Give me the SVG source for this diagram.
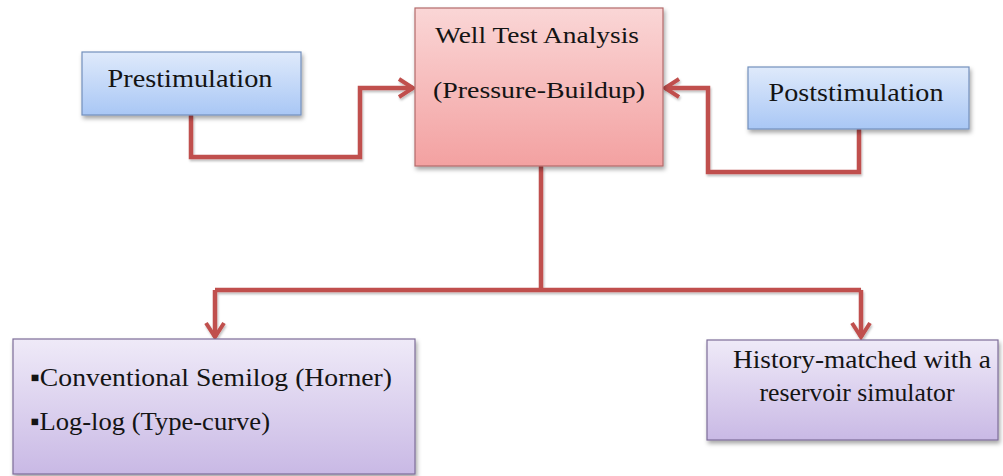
<svg xmlns="http://www.w3.org/2000/svg" width="1003" height="476" viewBox="0 0 1003 476">
<defs>
<style>
.txt{font-family:"Liberation Serif","Times New Roman",serif;fill:#141414;}
.blue{fill:url(#gBlue);stroke:#7390bd;stroke-width:1.2;}
.red{fill:url(#gRed);stroke:#b36b6b;stroke-width:1.2;}
.purple{fill:url(#gPurple);stroke:#7d6d98;stroke-width:1.2;}
.conn{fill:none;stroke:#c0504d;stroke-width:4.5;stroke-linejoin:miter;}
</style>
<linearGradient id="gBlue" x1="0" y1="0" x2="0" y2="1">
<stop offset="0" stop-color="#dfeafb"/>
<stop offset="1" stop-color="#a9c7f5"/>
</linearGradient>
<linearGradient id="gRed" x1="0" y1="0" x2="0" y2="1">
<stop offset="0" stop-color="#fad6d6"/>
<stop offset="1" stop-color="#f3a1a1"/>
</linearGradient>
<linearGradient id="gPurple" x1="0" y1="0" x2="0" y2="1">
<stop offset="0" stop-color="#efeaf8"/>
<stop offset="1" stop-color="#c9b9e5"/>
</linearGradient>
<filter id="sh" x="-10%" y="-10%" width="120%" height="130%">
<feDropShadow dx="1.5" dy="3" stdDeviation="2" flood-color="#000" flood-opacity="0.35"/>
</filter>
<filter id="lsh" x="-5%" y="-5%" width="110%" height="110%">
<feDropShadow dx="1" dy="2" stdDeviation="1.2" flood-color="#000" flood-opacity="0.25"/>
</filter>
<marker id="arr" markerUnits="userSpaceOnUse" markerWidth="24" markerHeight="24" viewBox="0 0 24 24" refX="20" refY="12" orient="auto">
<path d="M6,3 L20,12 L6,21" fill="none" stroke="#c0504d" stroke-width="4" stroke-linejoin="miter"/>
</marker>
</defs>

<g id="connectors" filter="url(#lsh)">
<path class="conn" d="M191,115 V157 H360 V88 H413" marker-end="url(#arr)"/>
<path class="conn" d="M859,129 V172 H708 V88 H665" marker-end="url(#arr)"/>
<path class="conn" d="M541,166 V290"/>
<path class="conn" d="M215,290 H861"/>
<path class="conn" d="M215,290 V337" marker-end="url(#arr)"/>
<path class="conn" d="M861,290 V337" marker-end="url(#arr)"/>
</g>

<g id="prestimulation">
<rect class="blue" x="82" y="52" width="219" height="63" filter="url(#sh)"/>
<text class="txt" x="190" y="87" font-size="26" text-anchor="middle" textLength="165" lengthAdjust="spacingAndGlyphs">Prestimulation</text>
</g>

<g id="well-test-analysis">
<rect class="red" x="415" y="8" width="248" height="158" filter="url(#sh)"/>
<text class="txt" x="537" y="43" font-size="24" text-anchor="middle" textLength="204" lengthAdjust="spacingAndGlyphs">Well Test Analysis</text>
<text class="txt" x="539" y="98" font-size="24" text-anchor="middle" textLength="212" lengthAdjust="spacingAndGlyphs">(Pressure-Buildup)</text>
</g>

<g id="poststimulation">
<rect class="blue" x="748" y="67" width="221" height="62" filter="url(#sh)"/>
<text class="txt" x="856" y="101" font-size="26" text-anchor="middle" textLength="175" lengthAdjust="spacingAndGlyphs">Poststimulation</text>
</g>

<g id="conventional-methods">
<rect class="purple" x="13" y="339" width="402" height="135" filter="url(#sh)"/>
<text class="txt" x="30" y="386" font-size="26" textLength="362" lengthAdjust="spacingAndGlyphs">▪Conventional Semilog (Horner)</text>
<text class="txt" x="30" y="430" font-size="26" textLength="240" lengthAdjust="spacingAndGlyphs">▪Log-log (Type-curve)</text>
</g>

<g id="history-matched">
<rect class="purple" x="707" y="340" width="291" height="100" filter="url(#sh)"/>
<text class="txt" x="862" y="368" font-size="26" text-anchor="middle" textLength="258" lengthAdjust="spacingAndGlyphs">History-matched with a</text>
<text class="txt" x="857" y="401" font-size="26" text-anchor="middle" textLength="195" lengthAdjust="spacingAndGlyphs">reservoir simulator</text>
</g>
</svg>
